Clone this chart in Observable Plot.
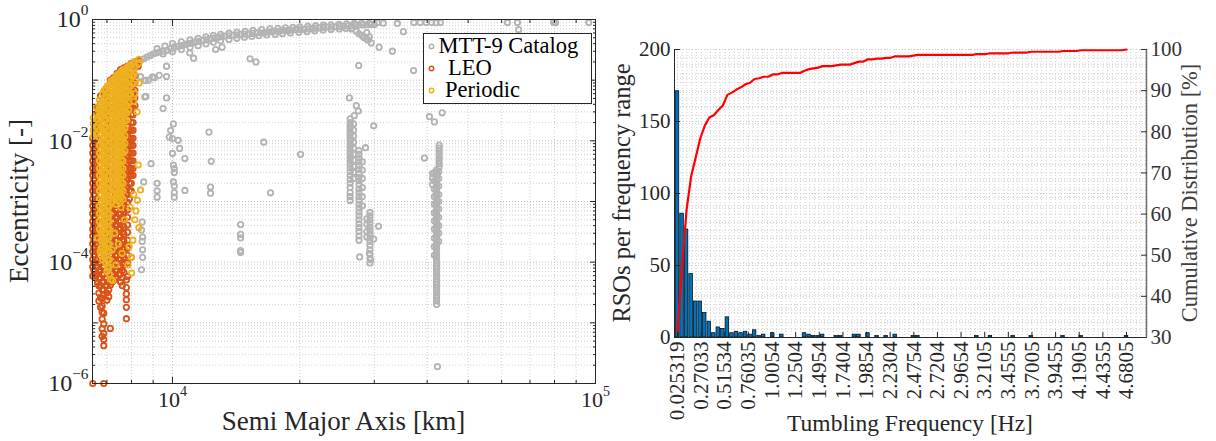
<!DOCTYPE html>
<html>
<head>
<meta charset="utf-8">
<script src="https://cdn.jsdelivr.net/npm/d3@7"></script>
<script src="https://cdn.jsdelivr.net/npm/@observablehq/plot@0.6"></script>
<style>
  html, body { margin: 0; padding: 0; background: #fff; }
  #wrap { position: relative; width: 1216px; height: 441px; display: flex; overflow: hidden; }
  #wrap > div { flex: none; }
  #overlay { position: absolute; left: 0; top: 0; pointer-events: none; }
</style>
</head>
<body>
<div id="wrap"><div id="leftChart"></div><div id="rightChart"></div><svg id="overlay" width="1216" height="441"></svg></div>
<script>
// ================= LEFT PANEL DATA (semi major axis [km], eccentricity [-]) =================
const seriesNames = ["MTT-9 Catalog", "LEO", "Periodic"];
const seriesColors = ["#b3b3b3", "#D95319", "#EDB120"];

const xMajorTicks = [1e4, 1e5];
const xMajorLabels = ["10^4", "10^5"];
const xMinorTicks = [7000, 8000, 9000, 20000, 30000, 40000, 50000, 60000, 70000, 80000, 90000];
const yMajorTicks = [1e-6, 1e-5, 1e-4, 1e-3, 1e-2, 1e-1, 1];
const yMajorLabels = ["10^\u22126", "", "10^\u22124", "", "10^\u22122", "", "10^0"];

// MTT-9 catalog: dense vertical groups (one a, several e)
const catalogCols = [
  {a: 26300, e: [0.023, 0.02, 0.018, 0.016, 0.014, 0.0125, 0.011, 0.0098, 0.0087, 0.0077, 0.0068, 0.006, 0.0053, 0.0047, 0.0041, 0.0036, 0.0031, 0.0027, 0.0023, 0.002, 0.0017, 0.0014, 0.0012, 0.00104]},
  {a: 26800, e: [0.019, 0.015, 0.012, 0.0095, 0.0075, 0.006, 0.0048, 0.0038, 0.003, 0.0024]},
  {a: 27600, e: [0.0069, 0.006, 0.0052, 0.0045, 0.0039, 0.0034, 0.0029, 0.0025, 0.0022, 0.0019, 0.0016, 0.0014, 0.0012, 0.00105, 9e-4, 7.8e-4, 6.7e-4, 5.8e-4, 5e-4, 4.3e-4, 3.7e-4, 3.2e-4, 2.7e-4, 2.3e-4]},
  {a: 28100, e: [0.0045, 0.0033, 0.0024, 0.0017, 0.0012, 8.5e-4]},
  {a: 29300, e: [6.6e-4, 5.8e-4, 5e-4, 4.4e-4, 3.8e-4, 3.3e-4, 2.9e-4, 2.5e-4, 2.2e-4, 1.9e-4, 1.6e-4, 1.35e-4, 1.15e-4, 9.7e-5]},
  {a: 28800, e: [5.2e-4, 4.2e-4, 3.2e-4, 2.6e-4]},
  {a: 42700, e: [0.0085, 0.0076, 0.0068, 0.006, 0.0053, 0.0047, 0.0042, 0.0037]},
  {a: 42100, e: [0.0033, 0.0029, 0.0026, 0.0023, 0.002, 0.0018, 0.0016, 0.0014, 0.00125, 0.0011, 9.8e-4, 8.7e-4, 7.7e-4, 6.8e-4, 6e-4, 5.3e-4, 4.7e-4, 4.2e-4, 3.7e-4, 3.3e-4, 2.9e-4, 2.6e-4, 2.3e-4, 2e-4, 1.8e-4, 1.6e-4, 1.4e-4, 1.25e-4, 1.1e-4, 9.8e-5, 8.7e-5, 7.7e-5, 6.8e-5, 6e-5, 5.3e-5, 4.7e-5, 4.2e-5, 3.7e-5, 3.3e-5, 2.9e-5, 2.6e-5, 2.3e-5, 2e-5]},
  {a: 41600, e: [0.003, 0.0022, 0.0016, 0.0012, 9e-4, 6.5e-4, 4.8e-4, 3.5e-4, 2.5e-4, 1.8e-4, 1.3e-4]},
  {a: 42600, e: [0.0031, 0.0024, 0.0018, 0.0013, 0.001, 7.5e-4, 5.5e-4, 4e-4, 3e-4, 2.2e-4]},
  {a: 41200, e: [0.0029, 0.0024, 0.0019]}
];
// MTT-9 catalog: individual objects
const catalogPts = [
  // high-eccentricity arc
  [8400,0.21],[8700,0.24],[9000,0.27],[9300,0.29],[9700,0.31],[10100,0.35],[10500,0.37],[10900,0.4],[11300,0.42],[11800,0.45],
  [12300,0.48],[12800,0.51],[13300,0.53],[13900,0.55],[14500,0.57],[15100,0.58],[15800,0.6],[16500,0.61],[17200,0.63],[18000,0.65],
  [18800,0.66],[19600,0.68],[20500,0.69],[21400,0.71],[22300,0.73],[23300,0.75],[24300,0.76],[25400,0.78],[26500,0.79],[27600,0.81],
  [28800,0.82],[30000,0.83],
  [8550,0.225],[8850,0.255],[9150,0.28],[9500,0.3],[9900,0.33],[10300,0.36],[10700,0.385],[11100,0.41],[11550,0.435],[12050,0.465],
  [12550,0.495],[13050,0.52],[13600,0.54],[14200,0.56],[14800,0.575],[15450,0.59],[16150,0.605],[16850,0.62],[17600,0.64],[18400,0.655],
  [19200,0.67],[20050,0.685],[20950,0.7],[21850,0.72],[22800,0.74],[23800,0.755],[24850,0.77],[25950,0.785],[27050,0.8],[28200,0.815],[29400,0.825],
  [9200,0.33],[10000,0.4],[11000,0.46],[12000,0.52],[13000,0.57],[14200,0.62],[15500,0.66],[17000,0.7],[18500,0.73],[20000,0.76],
  [21800,0.79],[23700,0.82],[25800,0.85],[28000,0.87],[30500,0.88],[31500,0.87],
  [9600,0.365],[10500,0.43],[11500,0.49],[12500,0.545],[13600,0.595],[14850,0.64],[16250,0.68],[17750,0.715],[19250,0.745],[20900,0.775],
  [22750,0.805],[24750,0.835],[26900,0.86],[29200,0.875],
  [9500,0.27],[10500,0.32],[11500,0.37],[12500,0.42],[13600,0.47],[14800,0.51],[16000,0.54],[17500,0.57],[19000,0.6],[20800,0.63],
  [22700,0.67],[24800,0.7],[26600,0.72],
  [10000,0.295],[11000,0.345],[12000,0.395],[13000,0.445],[14200,0.49],[15400,0.525],[16700,0.555],[18200,0.585],[19900,0.615],[21700,0.65],
  [23700,0.685],[25700,0.71],
  [26500,0.7],[27200,0.64],[27600,0.58],[28000,0.55],[28300,0.51],[28700,0.48],[29000,0.46],[29500,0.41],[30800,0.35],[29200,0.52],[28800,0.61],
  [34000,0.86],[37200,0.89],[38500,0.89],[39800,0.89],[41000,0.89],[42000,0.88],[43000,0.89],[35150,0.63],[33100,0.3],[27560,0.174],
  [37150,0.144],[61900,0.89],[65400,0.89],[65800,0.68],[79600,0.9],[80500,0.88],[96400,0.89],
  [10990,0.28],[11220,0.23],[12650,0.32],[13100,0.35],[15250,0.225],[15750,0.2],
  // near the LEO region
  [9680,0.17],[9680,0.115],[8630,0.099],[8970,0.113],[9300,0.12],[9680,0.051],[9500,0.034],[8600,0.053],[8404,0.114],[8770,0.1],[9060,0.11],[8650,0.054],
  [10050,0.019],[9900,0.0148],[10000,0.0109],[9830,0.0115],[10320,0.0102],[10400,0.0075],[10000,0.0062],[10700,0.0051],[10050,0.004],
  [10100,0.0035],[10100,0.003],[10050,0.0021],[10100,0.0018],[10100,0.0014],[10100,0.00118],[10700,0.00152],[9200,0.002],[9200,0.0015],
  [9200,0.00118],[8900,0.0042],[8550,0.0021],[12200,0.0139],[12350,0.0046],[12300,0.00173],[12300,0.00137],[16440,0.0095],[20080,0.006],
  [17050,0.00139],[14490,4.16e-4],[14490,2.87e-4],[14490,2.5e-4],[14490,1.55e-4],[14490,1.44e-4],
  [8480,4.6e-4],[8450,3.4e-4],[8500,2.6e-4],[8480,2.2e-4],[8500,1.2e-4],[8450,7.5e-5],[8500,1.6e-4],
  // MEO / GEO neighbourhood
  [26200,0.051],[27200,0.038],[27500,0.031],[26900,0.026],[29900,0.0177],[28600,0.0077],[30700,3.9e-4],[27700,1.22e-4],[29400,1.1e-4],
  [29200,1.4e-4],[29900,2.4e-4],[40500,0.025],[41600,0.0205],[43400,0.029],[39400,0.0052],[42300,1.9e-6]
];

// LEO objects
const leoCols = [
  {a: 6480, e: [0.011, 0.0084, 0.0063, 0.0047, 0.0035, 0.0027, 0.002, 0.0015, 0.0011, 8.4e-4, 6.3e-4, 4.7e-4, 3.5e-4, 2.7e-4, 2e-4, 1.5e-4, 1.1e-4, 8.4e-5]},
  {a: 6520, e: [0.0073, 0.0055, 0.0041, 0.0031, 0.0023, 0.0017, 0.0013, 9.7e-4, 7.3e-4, 5.5e-4, 4.1e-4, 3.1e-4, 2.3e-4, 1.7e-4, 1.3e-4, 9.7e-5, 7.3e-5]},
  {a: 6560, e: [0.017, 0.013, 0.0097, 0.0073, 0.0055, 0.0041, 0.0031, 0.0023, 0.0017, 0.0013, 9.7e-4, 7.3e-4, 5.5e-4, 4.1e-4, 3.1e-4, 2.3e-4, 1.7e-4, 1.3e-4, 9.7e-5, 5.9e-5]},
  {a: 6600, e: [0.02, 0.015, 0.011, 0.0084, 0.0063, 0.0047, 0.0035, 0.0027, 0.002, 0.0015, 0.0011, 8.4e-4, 6.3e-4, 4.7e-4, 3.5e-4, 2.7e-4, 2e-4, 1.5e-4, 1.1e-4, 8.4e-5, 6.3e-5]},
  {a: 6650, e: [0.035, 0.027, 0.02, 0.015, 0.011, 0.0084, 0.0063, 0.0047, 0.0035, 0.0027, 0.002, 0.0015, 0.0011, 8.4e-4, 6.3e-4, 4.7e-4, 3.5e-4, 2.7e-4, 2e-4, 1.5e-4, 1.1e-4, 8.4e-5, 6.3e-5, 4.5e-5]},
  {a: 6700, e: [3e-4, 2.3e-4, 1.7e-4, 1.3e-4, 9.7e-5, 7.3e-5, 5.5e-5, 4.1e-5, 3.1e-5, 2.3e-5]},
  {a: 6760, e: [0.055, 0.041, 0.031, 0.023, 0.017, 0.013, 0.0097, 0.0073, 0.0055, 0.0041, 0.0031, 0.0023, 0.0017, 0.0013, 9.7e-4, 7.3e-4, 5.5e-4, 4.1e-4, 3.1e-4, 2.3e-4, 1.7e-4, 1.3e-4, 9.7e-5, 7.3e-5, 5.5e-5, 4.1e-5, 2.6e-5, 1.8e-5]},
  {a: 6820, e: [2e-4, 1.5e-4, 1.1e-4, 8.4e-5, 6.3e-5, 4.7e-5, 3.5e-5, 2.5e-5, 1.9e-5, 1.5e-5, 1.15e-5, 8e-6, 6e-6]},
  {a: 6880, e: [0.063, 0.047, 0.035, 0.027, 0.02, 0.015, 0.011, 0.0084, 0.0063, 0.0047, 0.0035, 0.0027, 0.002, 0.0015, 0.0011, 8.4e-4, 6.3e-4, 4.7e-4, 3.5e-4, 2.7e-4, 2e-4, 1.5e-4, 1.1e-4, 8.4e-5, 6.3e-5, 4.7e-5, 3.5e-5, 2.9e-5, 1.44e-5, 9.6e-6, 6.7e-6, 5.3e-6, 4.2e-6]},
  {a: 7000, e: [0.073, 0.055, 0.041, 0.031, 0.023, 0.017, 0.013, 0.0097, 0.0073, 0.0055, 0.0041, 0.0031, 0.0023, 0.0017, 0.0013, 9.7e-4, 7.3e-4, 5.5e-4, 4.1e-4, 3.1e-4, 2.3e-4, 1.7e-4, 1.3e-4, 9.7e-5, 7.3e-5, 5.5e-5, 4.1e-5, 3.1e-5, 2.35e-5]},
  {a: 7070, e: [2e-4, 1.5e-4, 1.1e-4, 8.4e-5, 6.3e-5, 4.7e-5, 3.5e-5, 2.7e-5]},
  {a: 7130, e: [0.1, 0.075, 0.056, 0.042, 0.032, 0.024, 0.018, 0.0133, 0.01, 0.0075, 0.0056, 0.0042, 0.0032, 0.0024, 0.0018, 0.00133, 0.001, 7.5e-4, 5.6e-4, 4.2e-4, 3.2e-4, 2.4e-4, 1.8e-4, 1.33e-4, 1e-4, 7.5e-5, 5.6e-5, 4.2e-5, 8.1e-6]},
  {a: 7200, e: [8.4e-4, 6.3e-4, 4.7e-4, 3.5e-4, 2.7e-4, 2e-4, 1.5e-4, 1.1e-4, 8.4e-5, 6.3e-5, 4.7e-5]},
  {a: 7260, e: [0.11, 0.084, 0.063, 0.047, 0.035, 0.027, 0.02, 0.015, 0.011, 0.0084, 0.0063, 0.0047, 0.0035, 0.0027, 0.002, 0.0015, 0.0011, 8.4e-4, 6.3e-4, 4.7e-4, 3.5e-4, 2.7e-4, 2e-4, 1.5e-4, 1.1e-4, 8.4e-5, 6.3e-5, 5e-5]},
  {a: 7330, e: [9.7e-4, 7.3e-4, 5.5e-4, 4.1e-4, 3.1e-4, 2.3e-4, 1.7e-4, 1.3e-4, 9.7e-5, 7.3e-5, 5.5e-5]},
  {a: 7400, e: [0.13, 0.097, 0.073, 0.055, 0.041, 0.031, 0.023, 0.017, 0.013, 0.0097, 0.0073, 0.0055, 0.0041, 0.0031, 0.0023, 0.0017, 0.0013, 9.7e-4, 7.3e-4, 5.5e-4, 4.1e-4, 3.1e-4, 2.3e-4, 1.7e-4, 1.3e-4, 9.7e-5, 7.3e-5]},
  {a: 7470, e: [8.4e-4, 6.3e-4, 4.7e-4, 3.5e-4, 2.7e-4, 2e-4, 1.5e-4, 1.1e-4, 8.4e-5, 6.3e-5]},
  {a: 7540, e: [0.15, 0.11, 0.084, 0.063, 0.047, 0.035, 0.027, 0.02, 0.015, 0.011, 0.0084, 0.0063, 0.0047, 0.0035, 0.0027, 0.002, 0.0015, 0.0011, 8.4e-4, 6.3e-4, 4.7e-4, 3.5e-4, 2.7e-4, 2e-4, 1.5e-4, 1.1e-4, 8.4e-5, 6.3e-5, 4.7e-5]},
  {a: 7610, e: [9.7e-4, 7.3e-4, 5.5e-4, 4.1e-4, 3.1e-4, 2.3e-4, 1.7e-4, 1.3e-4, 9.7e-5, 7.3e-5, 5.5e-5, 4.1e-5]},
  {a: 7680, e: [0.16, 0.12, 0.09, 0.068, 0.051, 0.038, 0.029, 0.022, 0.016, 0.012, 0.009, 0.0068, 0.0051, 0.0038, 0.0029, 0.0022, 0.0016, 0.0012, 9e-4, 6.8e-4, 5.1e-4, 3.8e-4, 2.9e-4, 2.2e-4, 1.6e-4, 1.2e-4, 9e-5, 6.8e-5]},
  {a: 7760, e: [0.013, 0.0097, 0.0073, 0.0055, 0.0041, 0.0031, 0.0023, 0.0017, 0.0013]},
  {a: 7780, e: [5.1e-5, 3.8e-5, 3e-5, 2.4e-5, 1.8e-5, 1.17e-5]},
  {a: 7830, e: [0.17, 0.13, 0.097, 0.073, 0.055, 0.041, 0.031, 0.023, 0.017, 0.013, 0.0097, 0.0073, 0.0055, 0.0041, 0.0031, 0.0023, 0.0017, 0.0013, 9.7e-4, 7.3e-4, 5.5e-4, 4.1e-4, 3.1e-4, 2.3e-4, 1.7e-4, 1.3e-4, 9.7e-5, 5.8e-5]},
  {a: 7910, e: [0.015, 0.011, 0.0084, 0.0063, 0.0047, 0.0035, 0.0027, 0.002, 0.0015, 0.0011]},
  {a: 7990, e: [0.19, 0.15, 0.11, 0.084, 0.063, 0.047, 0.035, 0.027, 0.02, 0.015, 0.011, 0.0084, 0.0063, 0.0047, 0.0035, 0.0027, 0.002, 0.0015, 1.2e-4]},
  {a: 8070, e: [0.063, 0.047, 0.035, 0.027, 0.02, 0.015, 0.011, 0.0084, 0.0063, 0.0047, 0.0035, 0.0027]},
  {a: 8150, e: [0.2, 0.16, 0.12, 0.09, 0.068, 0.051, 0.038]},
  {a: 8300, e: [0.21, 0.17]}
];
const leoPts = [[6480, 1e-6], [6880, 1e-6], [6480, 5.9e-5]];

// Periodic tumblers
const periodicCols = [
  {a: 6500, e: [0.024, 0.019, 0.015, 0.012]},
  {a: 6600, e: [0.036, 0.028, 0.022, 0.017, 0.013]},
  {a: 6720, e: [0.047, 0.035, 0.027, 0.02, 0.015, 0.011, 0.0084, 0.0063, 0.0047, 0.0035, 0.0027, 0.002, 0.0015, 0.0011, 8.4e-4, 6.3e-4, 4.7e-4, 3.5e-4]},
  {a: 6780, e: [0.04, 0.031, 0.023, 0.017, 0.013, 0.0097, 0.0073, 0.0055, 0.0041, 0.0031, 0.0023, 0.0017, 0.0013, 9.7e-4, 7.3e-4, 5.5e-4, 4.1e-4, 3.1e-4, 2.3e-4, 1.7e-4, 1.3e-4]},
  {a: 6840, e: [0.06, 0.045, 0.034, 0.026, 0.019, 0.0145, 0.011, 0.0082, 0.0062, 0.0046, 0.0035, 0.0026, 0.002, 0.0015, 0.0011, 8.3e-4, 6.2e-4, 4.6e-4, 3.5e-4, 2.6e-4, 2e-4, 1.5e-4, 1.1e-4]},
  {a: 6900, e: [0.068, 0.051, 0.038, 0.029, 0.022, 0.016, 0.012, 0.009, 0.0068, 0.0051, 0.0038, 0.0029, 0.0022, 0.0016, 0.0012, 9e-4, 6.8e-4, 5.1e-4, 3.8e-4, 2.9e-4, 2.2e-4, 1.6e-4, 1.2e-4]},
  {a: 6960, e: [0.073, 0.055, 0.041, 0.031, 0.023, 0.017, 0.013, 0.0097, 0.0073, 0.0055, 0.0041, 0.0031, 0.0023, 0.0017, 0.0013, 9.7e-4, 7.3e-4, 5.5e-4, 4.1e-4, 3.1e-4, 2.3e-4, 1.7e-4, 1.3e-4, 9.7e-5]},
  {a: 7020, e: [0.08, 0.06, 0.045, 0.034, 0.026, 0.019, 0.0145, 0.011, 0.0082, 0.0062, 0.0046, 0.0035, 0.0026, 0.002, 0.0015, 0.0011, 8.3e-4, 6.2e-4, 4.6e-4, 3.5e-4, 2.6e-4, 2e-4, 1.5e-4, 1.1e-4, 8.3e-5]},
  {a: 7090, e: [0.084, 0.063, 0.047, 0.035, 0.027, 0.02, 0.015, 0.011, 0.0084, 0.0063, 0.0047, 0.0035, 0.0027, 0.002, 0.0015, 0.0011, 8.4e-4, 6.3e-4, 4.7e-4, 3.5e-4, 2.7e-4, 2e-4, 1.5e-4, 1.1e-4, 8.4e-5, 6.3e-5]},
  {a: 7160, e: [0.097, 0.073, 0.055, 0.041, 0.031, 0.023, 0.017, 0.013, 0.0097, 0.0073, 0.0055, 0.0041, 0.0031, 0.0023, 0.0017, 0.0013, 9.7e-4]},
  {a: 7220, e: [0.1, 0.075, 0.056, 0.042, 0.032, 0.024, 0.018, 0.0133, 0.01, 0.0075, 0.0056, 0.0042, 0.0032, 0.0024, 0.0018, 0.00133, 0.001, 5e-5]},
  {a: 7290, e: [0.105, 0.08, 0.06, 0.045, 0.034, 0.026, 0.019, 0.0145, 0.011, 0.0082, 0.0062, 0.0046, 0.0035, 0.0026, 0.002, 0.0015, 0.0011]},
  {a: 7360, e: [0.12, 0.09, 0.068, 0.051, 0.038, 0.029, 0.022, 0.016, 0.012, 0.009, 0.0068, 0.0051, 0.0038, 0.0029, 0.0022, 0.0016, 0.0012, 9e-4]},
  {a: 7430, e: [0.125, 0.1, 0.078, 0.06, 0.045, 0.034, 0.026, 0.019, 0.0145, 0.011, 0.0082, 0.0062, 0.0046, 0.0035, 0.0026, 0.0019, 0.0014, 0.00105]},
  {a: 7500, e: [0.13, 0.097, 0.073, 0.055, 0.041, 0.031, 0.023, 0.017, 0.013, 0.0097, 0.0073, 0.0055, 0.0041, 0.0031, 0.0023, 0.0017, 0.0013, 9.7e-4]},
  {a: 7570, e: [0.14, 0.11, 0.084, 0.063, 0.048, 0.036, 0.027, 0.02, 0.015, 0.0115, 0.0086, 0.0065, 0.0049, 0.0037, 0.0028, 0.0021, 0.0016, 0.0012]},
  {a: 7640, e: [0.15, 0.11, 0.084, 0.063, 0.047, 0.035, 0.027, 0.02, 0.015, 0.011, 0.0084, 0.0063, 0.0047, 0.0035, 0.0027, 0.002, 0.0015, 0.0011]},
  {a: 7720, e: [0.15, 0.115, 0.087, 0.065, 0.049, 0.037, 0.028, 0.021, 0.016, 0.012, 0.009, 0.0068]},
  {a: 7800, e: [0.16, 0.12, 0.09, 0.068, 0.051, 0.038, 0.029, 0.022]},
  {a: 7880, e: [0.17, 0.13, 0.1, 0.075, 0.056, 0.042, 0.032]},
  {a: 7960, e: [0.18, 0.14, 0.105, 0.08, 0.06]},
  {a: 8050, e: [0.19, 0.15, 0.115, 0.087]},
  {a: 8130, e: [0.2, 0.16, 0.125]},
  {a: 8330, e: [0.22, 0.19]}
];
const periodicPts = [
  [8404,1.55e-3],[8260,1.05e-3],[8330,3.7e-4],[8060,2.3e-4],[8010,6.6e-5],[8200,7e-4],[8100,1.3e-3],[7950,8e-4],[8150,5e-4],
  [7900,1.8e-4],[8000,1.2e-4],[7850,9e-5],[7400,1.2e-3],[7550,8e-4],[7700,5e-4],[7300,3e-4],[7450,2e-4],[7600,1.4e-4],[7200,1.6e-4],
  [7350,9e-5],[7000,7e-5],[7150,5.2e-5],[6750,1.5e-4],[6650,2.5e-4],[8300,0.004],[8250,0.03],[8150,0.06],[8350,0.09],[8100,0.045]
];

// ================= RIGHT PANEL DATA (tumbling frequency histogram) =================
const freqTickLabels = ["0.025319","0.27033","0.51534","0.76035","1.0054","1.2504","1.4954","1.7404","1.9854","2.2304",
  "2.4754","2.7204","2.9654","3.2105","3.4555","3.7005","3.9455","4.1905","4.4355","4.6805"];
const countTicks = [0, 50, 100, 150, 200];
const pctTicks = [30, 40, 50, 60, 70, 80, 90, 100];
// RSOs per frequency bin (100 bins, first centre 0.025319 Hz, last centre 4.6805 Hz)
const binCounts = [
  171, 86, 75, 44, 25, 25, 17, 11, 3, 7,
  6, 14, 3, 4, 3, 4, 2, 5, 1, 2,
  0, 3, 0, 2, 0, 0, 0, 0, 3, 2,
  1, 1, 2, 0, 0, 1, 1, 0, 0, 2,
  2, 0, 3, 0, 1, 0, 1, 0, 2, 0,
  0, 0, 1, 1, 0, 0, 0, 0, 0, 0,
  0, 0, 0, 0, 0, 0, 1, 0, 0, 1,
  0, 0, 0, 0, 1, 0, 0, 0, 1, 0,
  0, 0, 0, 0, 0, 1, 0, 0, 0, 1,
  0, 0, 0, 0, 0, 0, 0, 0, 0, 1
];

// ================= BUILD =================
const toPts = (cols, pts) => [
  ...cols.flatMap(c => c.e.map(e => ({a: c.a, e}))),
  ...pts.map(([a, e]) => ({a, e}))
];
const catalog = toPts(catalogCols, catalogPts);
const leo = toPts(leoCols, leoPts);
const periodic = toPts(periodicCols, periodicPts);

const yMinorTicks = yMajorTicks.slice(0, -1).flatMap(d => [2, 3, 4, 5, 6, 7, 8, 9].map(m => m * d));
const xLab = new Map(xMajorTicks.map((d, i) => [d, xMajorLabels[i]]));
const yLab = new Map(yMajorTicks.map((d, i) => [d, yMajorLabels[i]]));
const blank = () => "";
const gridC = "#c4c4c4";
const axisC = "#262626";
const font = "'Liberation Serif', 'Times New Roman', serif";

const dotOpts = (color) => ({x: "a", y: "e", r: 2.7, stroke: color, strokeWidth: 1.8, fill: "none"});

const leftPlot = Plot.plot({
  width: 612, height: 441,
  marginLeft: 92, marginRight: 17, marginTop: 19, marginBottom: 58,
  style: {fontFamily: font, fontSize: "22px", color: axisC, background: "transparent", overflow: "visible"},
  x: {type: "log", domain: [6471, 1e5]},
  y: {type: "log", domain: [1e-6, 1]},
  marks: [
    Plot.ruleX(xMinorTicks, {stroke: gridC, strokeDasharray: "1,2", strokeWidth: 0.8}),
    Plot.ruleY(yMinorTicks, {stroke: gridC, strokeDasharray: "1,2", strokeWidth: 0.8}),
    Plot.ruleX(xMajorTicks, {stroke: "#b0b0b0", strokeDasharray: "1,2", strokeWidth: 0.9}),
    Plot.ruleY(yMajorTicks, {stroke: "#b0b0b0", strokeDasharray: "1,2", strokeWidth: 0.9}),
    Plot.dot(catalog, dotOpts(seriesColors[0])),
    Plot.dot(leo, dotOpts(seriesColors[1])),
    Plot.dot(periodic, dotOpts(seriesColors[2])),
    Plot.frame({stroke: axisC, strokeWidth: 1}),
    Plot.axisX({anchor: "bottom", ticks: xMajorTicks, tickSize: -6, tickPadding: 14, tickFormat: d => xLab.get(d), fontSize: 22, label: null}),
    Plot.axisX({anchor: "bottom", ticks: xMinorTicks, tickSize: -3, tickFormat: blank, label: null}),
    Plot.axisX({anchor: "top", ticks: xMajorTicks, tickSize: -6, tickFormat: blank, label: null}),
    Plot.axisX({anchor: "top", ticks: xMinorTicks, tickSize: -3, tickFormat: blank, label: null}),
    Plot.axisY({anchor: "left", ticks: yMajorTicks, tickSize: -6, tickPadding: 10, tickFormat: d => yLab.get(d), fontSize: 24, label: null}),
    Plot.axisY({anchor: "left", ticks: yMinorTicks, tickSize: -3, tickFormat: blank, label: null}),
    Plot.axisY({anchor: "right", ticks: yMajorTicks, tickSize: -6, tickFormat: blank, label: null}),
    Plot.axisY({anchor: "right", ticks: yMinorTicks, tickSize: -3, tickFormat: blank, label: null})
  ]
});

// histogram geometry from the tick label values
const binFirst = +freqTickLabels[0];
const binLast = +freqTickLabels[freqTickLabels.length - 1];
const binWidth = (binLast - binFirst) / (binCounts.length - 1);
const pctLo = pctTicks[0], pctHi = pctTicks[pctTicks.length - 1];
const cMax = countTicks[countTicks.length - 1];
const toLeft = p => (p - pctLo) / (pctHi - pctLo) * cMax;
const total = d3.sum(binCounts);
const cum = Array.from(d3.cumsum(binCounts));
const bins = binCounts.map((c, i) => ({f: binFirst + i * binWidth, c, pct: cum[i] / total * 100}));
const freqTicks = freqTickLabels.map(Number);
const fLab = new Map(freqTicks.map((d, i) => [d, freqTickLabels[i]]));
const pctPos = pctTicks.map(toLeft);
const pLab = new Map(pctPos.map((d, i) => [d, String(pctTicks[i])]));
const xDom = [binFirst - 3 / 96.45, binLast + 20 / 96.45];
const xMinorGrid = freqTicks.flatMap(t => [1, 2, 3, 4].map(j => t + j * (freqTicks[1] - freqTicks[0]) / 5)).filter(v => v < xDom[1]);
const yGridA = d3.range(0, cMax + 1, 10);
const yGridB = d3.range(pctLo, pctHi + 1, 2).map(toLeft);

const rightPlot = Plot.plot({
  width: 604, height: 441,
  marginLeft: 62, marginRight: 70, marginTop: 49, marginBottom: 104,
  style: {fontFamily: font, fontSize: "21px", color: axisC, background: "transparent", overflow: "visible"},
  x: {domain: xDom},
  y: {domain: [0, cMax]},
  marks: [
    Plot.ruleX(xMinorGrid, {stroke: gridC, strokeDasharray: "1,2", strokeWidth: 0.8}),
    Plot.ruleX(freqTicks, {stroke: gridC, strokeDasharray: "1,2", strokeWidth: 0.8}),
    Plot.ruleY(yGridA, {stroke: gridC, strokeDasharray: "1,2", strokeWidth: 0.8}),
    Plot.ruleY(yGridB, {stroke: gridC, strokeDasharray: "1,2", strokeWidth: 0.8}),
    Plot.rectY(bins.filter(d => d.c > 0), {
      x1: d => d.f - 0.39 * binWidth, x2: d => d.f + 0.39 * binWidth, y1: 0, y2: "c",
      fill: "#0072BD", stroke: "#000", strokeWidth: 0.7
    }),
    Plot.line(bins, {x: "f", y: d => toLeft(d.pct), stroke: "#ff0000", strokeWidth: 2.2}),
    Plot.ruleY([0], {stroke: axisC, strokeWidth: 1}),
    Plot.ruleX([xDom[0]], {stroke: axisC, strokeWidth: 1}),
    Plot.ruleX([xDom[1]], {stroke: "#707070", strokeWidth: 1.5}),
    Plot.axisX({anchor: "bottom", ticks: freqTicks, tickSize: -5, tickPadding: 9, tickRotate: -90, textAnchor: "end", lineAnchor: "middle", tickFormat: d => fLab.get(d), fontSize: 21, label: null}),
    Plot.axisY({anchor: "left", ticks: countTicks, tickSize: -6, tickPadding: 10, fontSize: 21, label: null}),
    Plot.axisY({anchor: "right", ticks: pctPos, tickSize: -6, tickPadding: 10, tickFormat: d => pLab.get(d), fontSize: 21, label: null, color: "#333"})
  ]
});

document.getElementById("leftChart").append(leftPlot);
document.getElementById("rightChart").append(rightPlot);

// superscript rendering for "10^k" tick labels
function superscripts(svg) {
  d3.select(svg).selectAll("text").each(function () {
    const s = this.textContent;
    const k = s.indexOf("^");
    if (k < 0) return;
    const fs = parseFloat(getComputedStyle(this).fontSize) || 22;
    const sel = d3.select(this);
    sel.text(null);
    sel.append("tspan").text(s.slice(0, k));
    sel.append("tspan").attr("dy", -0.5 * fs).attr("font-size", 0.64 * fs).text(s.slice(k + 1));
  });
}
superscripts(leftPlot);

// ================= axis titles and legend =================
const ov = d3.select("#overlay").style("font-family", font);
const titles = [
  {text: "Semi Major Axis [km]", x: 343.5, y: 430, size: 27, rot: 0, color: "#262626"},
  {text: "Eccentricity [-]", x: 28, y: 201, size: 27, rot: -90, color: "#262626"},
  {text: "RSOs per frequency range", x: 630, y: 193, size: 24.5, rot: -90, color: "#262626"},
  {text: "Cumulative Distribution [%]", x: 1197, y: 193, size: 22.5, rot: -90, color: "#404040"},
  {text: "Tumbling Frequency [Hz]", x: 910, y: 431, size: 23.5, rot: 0, color: "#262626"}
];
for (const t of titles) {
  ov.append("text").attr("transform", `translate(${t.x},${t.y}) rotate(${t.rot})`)
    .attr("text-anchor", "middle").attr("font-size", t.size).attr("fill", t.color).text(t.text);
}
const lg = ov.append("g");
lg.append("rect").attr("x", 423.5).attr("y", 33.5).attr("width", 168).attr("height", 70)
  .attr("fill", "#fff").attr("stroke", "#262626").attr("stroke-width", 1);
const rowsY = [46.5, 68.5, 90.5];
const textX = [438.5, 448, 445];
seriesNames.forEach((name, i) => {
  lg.append("circle").attr("cx", 431.5).attr("cy", rowsY[i]).attr("r", 2.2)
    .attr("fill", "none").attr("stroke", seriesColors[i]).attr("stroke-width", 1.5);
  lg.append("text").attr("x", textX[i]).attr("y", rowsY[i] + 6.5).attr("font-size", 22.5).attr("fill", "#000").text(name);
});
</script>
</body>
</html>
